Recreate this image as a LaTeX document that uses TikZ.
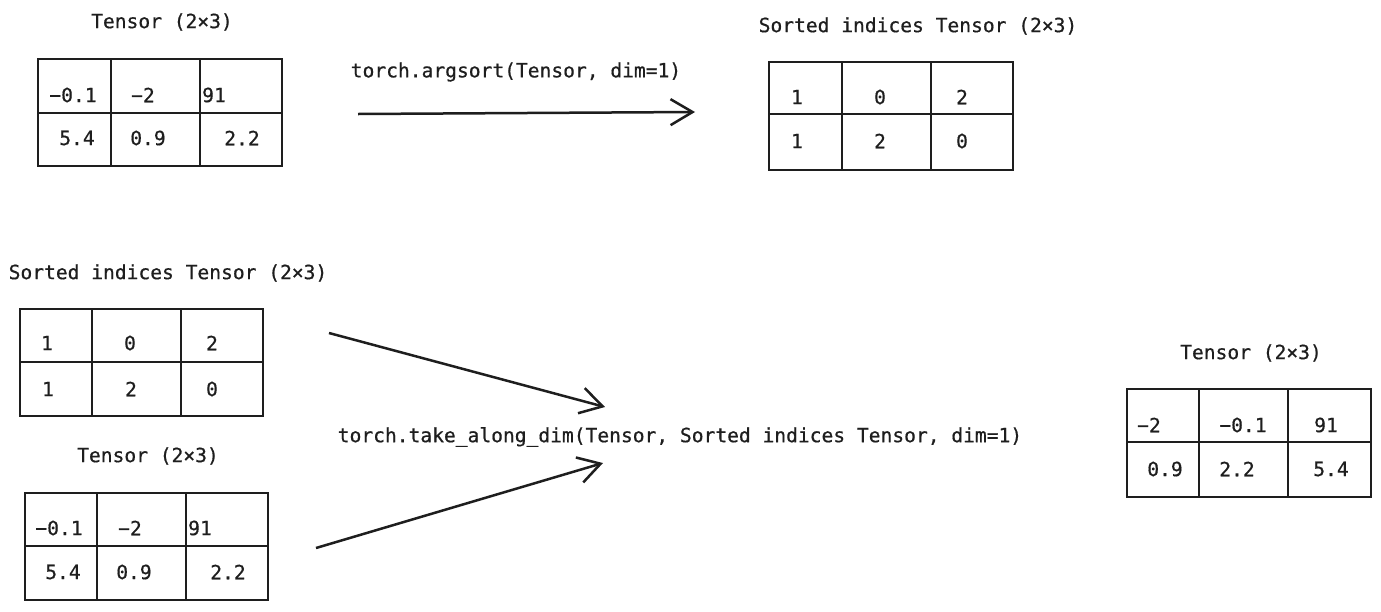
\documentclass[tikz,border=0pt]{standalone}
\usepackage{fontspec}
\setmonofont[FakeBold=0.6]{DejaVu Sans Mono}
\usetikzlibrary{arrows.meta,fit}
\definecolor{ink}{HTML}{1E1E1E}
\newcommand\tensorgrid[8]{%
  \coordinate (#1nw) at (#2,#3);
  \coordinate (#1se) at (#4,#5);
  \node[fit=(#1nw)(#1se), inner sep=0pt, draw=ink, gridline] (#1) {};
  \draw[gridline] (#2,#6) -- (#4,#6);
  \draw[gridline] (#7,#3) -- (#7,#5);
  \draw[gridline] (#8,#3) -- (#8,#5);
}
\begin{document}
\begin{tikzpicture}[x=1pt,y=-1pt,
  lbl/.style={font=\ttfamily\fontsize{19.6}{23}\selectfont, inner sep=0pt, text=ink},
  gridline/.style={line width=1.4pt, draw=ink},
  arr/.style={line width=2.5pt, draw=ink, -{Straight Barb[length=22pt,width=26pt,line width=2.5pt]}}]
\useasboundingbox[fill=white] (0,0) rectangle (1381,611);

% Table 1: input tensor (top left)
\node[lbl] (t1title) at (162,22) {Tensor (2×3)};
\tensorgrid{t1}{38}{59}{282}{166}{113}{111}{200}
\node[lbl] (t1a) at (73,95) {−0.1};
\node[lbl] (t1b) at (143,95) {−2};
\node[lbl] (t1c) at (214,95) {91};
\node[lbl] (t1d) at (77,138) {5.4};
\node[lbl] (t1e) at (148,138) {0.9};
\node[lbl] (t1f) at (242,138) {2.2};

% Table 2: sorted indices (top right)
\node[lbl] (t2title) at (918,26) {Sorted indices Tensor (2×3)};
\tensorgrid{t2}{769}{62}{1013}{170}{114}{842}{931}
\node[lbl] (t2a) at (797,97) {1};
\node[lbl] (t2b) at (880,97) {0};
\node[lbl] (t2c) at (962,97) {2};
\node[lbl] (t2d) at (797,141) {1};
\node[lbl] (t2e) at (880,141) {2};
\node[lbl] (t2f) at (962,141) {0};

% Arrow 1
\node[lbl] (lab1) at (516,72) {torch.argsort(Tensor, dim=1)};
\coordinate (a1s) at (358,114);
\coordinate (a1e) at (695,112);
\draw[arr] (a1s) -- (a1e);

% Table 3: sorted indices (middle left)
\node[lbl] (t3title) at (168,273) {Sorted indices Tensor (2×3)};
\tensorgrid{t3}{20}{309}{263}{416}{362}{92}{181}
\node[lbl] (t3a) at (47,343) {1};
\node[lbl] (t3b) at (130,343) {0};
\node[lbl] (t3c) at (212,343) {2};
\node[lbl] (t3d) at (48,389) {1};
\node[lbl] (t3e) at (131,389) {2};
\node[lbl] (t3f) at (212,389) {0};

% Table 4: input tensor (bottom left)
\node[lbl] (t4title) at (148,456) {Tensor (2×3)};
\tensorgrid{t4}{25}{493}{268}{600}{546}{97}{186}
\node[lbl] (t4a) at (59,528) {−0.1};
\node[lbl] (t4b) at (130,528) {−2};
\node[lbl] (t4c) at (200,528) {91};
\node[lbl] (t4d) at (63,572) {5.4};
\node[lbl] (t4e) at (134,572) {0.9};
\node[lbl] (t4f) at (228,572) {2.2};

% Table 5: result (right)
\node[lbl] (t5title) at (1251,353) {Tensor (2×3)};
\tensorgrid{t5}{1127}{389}{1371}{497}{442}{1199}{1288}
\node[lbl] (t5a) at (1149,425) {−2};
\node[lbl] (t5b) at (1243,425) {−0.1};
\node[lbl] (t5c) at (1326,425) {91};
\node[lbl] (t5d) at (1165,469) {0.9};
\node[lbl] (t5e) at (1237,469) {2.2};
\node[lbl] (t5f) at (1331,469) {5.4};

% Arrows 2 and 3
\node[lbl] (lab2) at (680,437) {torch.take\_along\_dim(Tensor, Sorted indices Tensor, dim=1)};
\coordinate (a2s) at (329,333);
\coordinate (a2e) at (605,407);
\draw[arr] (a2s) -- (a2e);
\coordinate (a3s) at (316,548);
\coordinate (a3e) at (603,463);
\draw[arr] (a3s) -- (a3e);
\end{tikzpicture}
\end{document}
